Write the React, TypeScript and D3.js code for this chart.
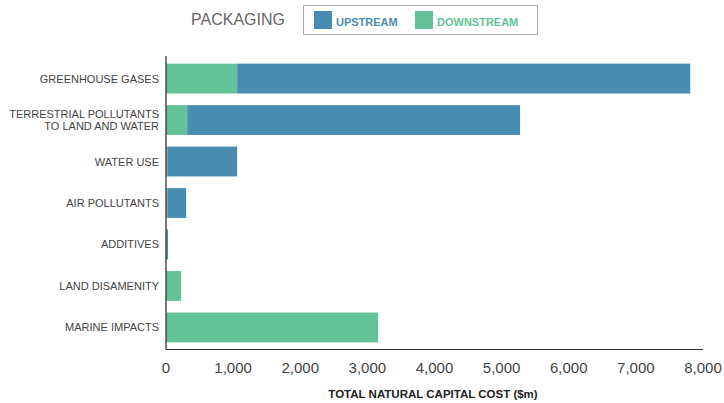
import React from "react";
import * as d3 from "d3";

const categories = [
  ["GREENHOUSE GASES"],
  ["TERRESTRIAL POLLUTANTS", "TO LAND AND WATER"],
  ["WATER USE"],
  ["AIR POLLUTANTS"],
  ["ADDITIVES"],
  ["LAND DISAMENITY"],
  ["MARINE IMPACTS"],
];
const downstream = [1060, 315, 20, 20, 10, 225, 3160];
const upstream = [6750, 4960, 1040, 280, 20, 0, 0];
const ticks = [0, 1000, 2000, 3000, 4000, 5000, 6000, 7000, 8000];

const UP = "#4a8db3";
const DOWN = "#64c298";

export default function App() {
  const W = 724, H = 403;
  const x = d3.scaleLinear().domain([0, 8000]).range([166, 703]);
  const y = d3.scaleBand<number>().domain(d3.range(categories.length)).range([57, 349]).paddingInner(0.28).paddingOuter(0.16);
  const fmt = d3.format(",");
  const font = "Helvetica, Arial, 'Liberation Sans', sans-serif";
  return (
    <svg width={W} height={H} style={{ position: "absolute", left: 0, top: 0 }} fontFamily={font}>
      <rect width={W} height={H} fill="#fff" />
      <text x={191} y={25} fontSize={16} fill="#666">PACKAGING</text>
      <rect x={303.5} y={5.5} width={234} height={29} fill="none" stroke="#aaa" strokeWidth={1} />
      <rect x={314} y={11} width={18} height={18} fill={UP} />
      <text x={336} y={26} fontSize={11} fontWeight="bold" fill={UP}>UPSTREAM</text>
      <rect x={415} y={11} width={18} height={18} fill={DOWN} />
      <text x={437} y={26} fontSize={11} fontWeight="bold" fill={DOWN}>DOWNSTREAM</text>

      {categories.map((c, i) => {
        const by = y(i)!;
        const bh = y.bandwidth();
        const cy = by + bh / 2;
        return (
          <g key={i}>
            <rect x={x(0)} y={by} width={x(downstream[i]) - x(0)} height={bh} fill={DOWN} />
            <rect x={x(downstream[i])} y={by} width={x(downstream[i] + upstream[i]) - x(downstream[i])} height={bh} fill={UP} />
            {c.map((line, j) => (
              <text key={j} x={159} y={cy + 4 + (j - (c.length - 1) / 2) * 12} fontSize={11} fill="#444" textAnchor="end">{line}</text>
            ))}
          </g>
        );
      })}

      <line x1={x(0)} x2={x(0)} y1={56} y2={349.5} stroke="#333" strokeWidth={1.3} />
      <line x1={x(0)} x2={x(8000)} y1={349.5} y2={349.5} stroke="#333" strokeWidth={1} />
      {ticks.map((t) => (
        <text key={t} x={x(t)} y={373} fontSize={15} fill="#444" textAnchor="middle">{fmt(t)}</text>
      ))}
      <text x={433} y={398} fontSize={11.5} fontWeight="bold" fill="#222" textAnchor="middle">TOTAL NATURAL CAPITAL COST ($m)</text>
    </svg>
  );
}
